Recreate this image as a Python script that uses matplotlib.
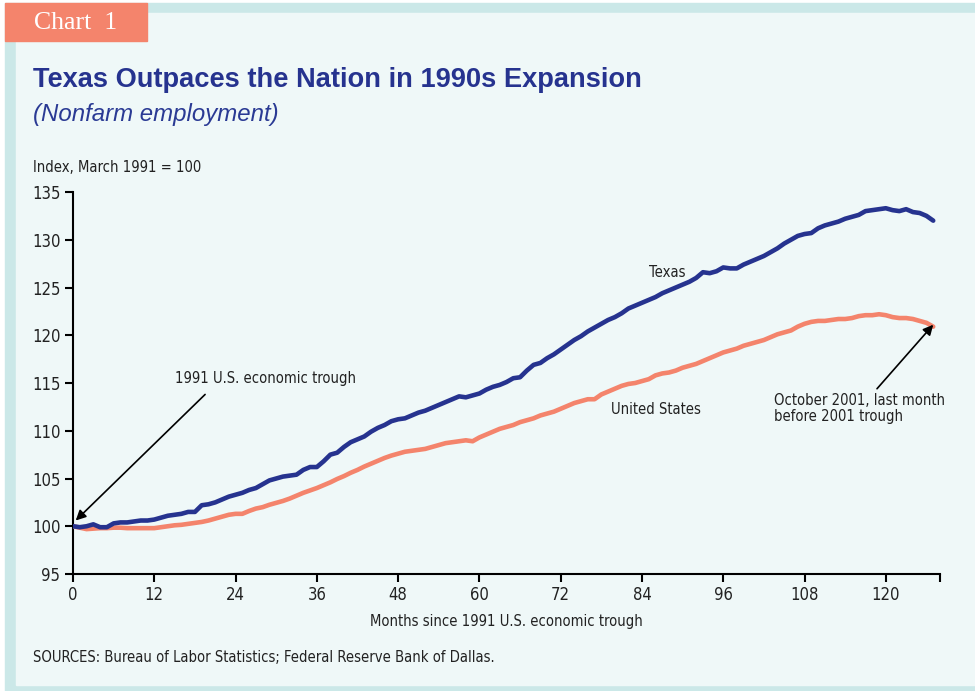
import matplotlib
matplotlib.use("Agg")
import matplotlib.pyplot as plt
import numpy as np
from matplotlib.patches import Rectangle
from matplotlib import font_manager

# Index, March 1991 = 100, months since trough 0..127
texas = [100.0, 99.9, 100.0, 100.2, 99.9, 99.9, 100.3, 100.4, 100.4, 100.5,
         100.6, 100.6, 100.7, 100.9, 101.1, 101.2, 101.3, 101.5, 101.5, 102.2,
         102.3, 102.5, 102.8, 103.1, 103.3, 103.5, 103.8, 104.0, 104.4, 104.8,
         105.0, 105.2, 105.3, 105.4, 105.9, 106.2, 106.2, 106.8, 107.5, 107.7,
         108.3, 108.8, 109.1, 109.4, 109.9, 110.3, 110.6, 111.0, 111.2, 111.3,
         111.6, 111.9, 112.1, 112.4, 112.7, 113.0, 113.3, 113.6, 113.5, 113.7,
         113.9, 114.3, 114.6, 114.8, 115.1, 115.5, 115.6, 116.3, 116.9, 117.1,
         117.6, 118.0, 118.5, 119.0, 119.5, 119.9, 120.4, 120.8, 121.2, 121.6,
         121.9, 122.3, 122.8, 123.1, 123.4, 123.7, 124.0, 124.4, 124.7, 125.0,
         125.3, 125.6, 126.0, 126.6, 126.5, 126.7, 127.1, 127.0, 127.0, 127.4,
         127.7, 128.0, 128.3, 128.7, 129.1, 129.6, 130.0, 130.4, 130.6, 130.7,
         131.2, 131.5, 131.7, 131.9, 132.2, 132.4, 132.6, 133.0, 133.1, 133.2,
         133.3, 133.1, 133.0, 133.2, 132.9, 132.8, 132.5, 132.0]
us = [100.0, 99.85, 99.7, 99.75, 99.8, 99.8, 99.85, 99.85, 99.8, 99.8,
      99.8, 99.8, 99.8, 99.9, 100.0, 100.1, 100.15, 100.25, 100.35, 100.45,
      100.6, 100.8, 101.0, 101.2, 101.3, 101.3, 101.6, 101.85, 102.0, 102.25,
      102.45, 102.65, 102.9, 103.2, 103.5, 103.75, 104.0, 104.3, 104.6, 104.95,
      105.25, 105.6, 105.9, 106.25, 106.55, 106.85, 107.15, 107.4, 107.6, 107.8,
      107.9, 108.0, 108.1, 108.3, 108.5, 108.7, 108.8, 108.9, 109.0, 108.9,
      109.3, 109.6, 109.9, 110.2, 110.4, 110.6, 110.9, 111.1, 111.3, 111.6,
      111.8, 112.0, 112.3, 112.6, 112.9, 113.1, 113.3, 113.3, 113.8, 114.1,
      114.4, 114.7, 114.9, 115.0, 115.2, 115.4, 115.8, 116.0, 116.1, 116.3,
      116.6, 116.8, 117.0, 117.3, 117.6, 117.9, 118.2, 118.4, 118.6, 118.9,
      119.1, 119.3, 119.5, 119.8, 120.1, 120.3, 120.5, 120.9, 121.2, 121.4,
      121.5, 121.5, 121.6, 121.7, 121.7, 121.8, 122.0, 122.1, 122.1, 122.2,
      122.1, 121.9, 121.8, 121.8, 121.7, 121.5, 121.3, 120.9]
months = np.arange(len(texas))

xticks = [0, 12, 24, 36, 48, 60, 72, 84, 96, 108, 120, 128]
xticklabels = ["0", "12", "24", "36", "48", "60", "72", "84", "96", "108", "120", ""]
yticks = [95, 100, 105, 110, 115, 120, 125, 130, 135]

navy = "#26338f"
salmon = "#f4846c"
teal = "#cbe8e8"
panel = "#eff8f8"
W, H = 975, 691

# look for a narrow sans (reference uses a condensed Helvetica)
narrow = None
for f in font_manager.fontManager.ttflist:
    if "Narrow" in f.name or "Condensed" in f.name:
        narrow = f.name
        break
    if f.name == "DejaVu Sans" and f.stretch == "condensed":
        narrow = "DejaVu Sans"
        break
if narrow:
    plt.rcParams['font.family'] = [narrow, 'DejaVu Sans']
    plt.rcParams['font.stretch'] = 'condensed'
    small = 10.6
    tick = 12
else:
    plt.rcParams['font.family'] = ['Liberation Sans', 'DejaVu Sans']
    small = 10
    tick = 11.5

fig = plt.figure(figsize=(W / 100, H / 100), dpi=100, facecolor="white")

# frame (pixel coords converted to figure fractions)
def px_rect(x0, y0, x1, y1, color):
    fig.patches.append(Rectangle((x0 / W, 1 - y1 / H), (x1 - x0) / W, (y1 - y0) / H,
                                 transform=fig.transFigure, color=color, zorder=-10))

px_rect(5, 3, 975, 691, teal)
px_rect(16, 13, 975, 685, panel)
px_rect(5, 3, 147, 41, salmon)

fig.text(34 / W, 1 - 23 / H, "Chart  1", color="white", fontsize=18.5,
         family="Liberation Serif", va="center", ha="left")
fig.text(33 / W, 1 - 80 / H, "Texas Outpaces the Nation in 1990s Expansion",
         color=navy, fontsize=19.6, fontweight="bold", family="Liberation Sans",
         stretch="normal", va="center", ha="left")
fig.text(33 / W, 1 - 114 / H, "(Nonfarm employment)", color="#2a3a94",
         fontsize=17.3, style="italic", family="Liberation Sans", stretch="normal",
         va="center", ha="left")
fig.text(33 / W, 1 - 167 / H, "Index, March 1991 = 100", color="#222222",
         fontsize=small, va="center", ha="left")
fig.text(33 / W, 1 - 658 / H, "SOURCES: Bureau of Labor Statistics; Federal Reserve Bank of Dallas.",
         color="#222222", fontsize=small, va="center", ha="left")

ax = fig.add_axes([73 / W, 1 - 574 / H, (940 - 73) / W, (574 - 192) / H])
ax.set_facecolor("none")
ax.plot(months, us, color=salmon, lw=3.3, solid_capstyle="round", zorder=3)
ax.plot(months, texas, color=navy, lw=3.3, solid_capstyle="round", zorder=4)

ax.set_xlim(0, 128)
ax.set_ylim(95, 135)
ax.set_xticks(xticks)
ax.set_xticklabels(xticklabels)
ax.set_yticks(yticks)
for s in ["top", "right"]:
    ax.spines[s].set_visible(False)
for s in ["left", "bottom"]:
    ax.spines[s].set_linewidth(1.5)
    ax.spines[s].set_color("black")
ax.tick_params(direction="out", length=6, width=1.5, labelsize=tick,
               colors="black", labelcolor="#222222", pad=3)
ax.set_xlabel("Months since 1991 U.S. economic trough", fontsize=small,
              color="#222222", labelpad=7)

ax.text(87.7, 126.6, "Texas", fontsize=small, color="#222222", ha="center", va="center")
ax.text(86, 112.2, "United States", fontsize=small, color="#222222", ha="center", va="center")

ax.annotate("", xy=(0.4, 100.6), xytext=(19.5, 113.8),
            arrowprops=dict(arrowstyle="-|>", color="black", lw=1.2,
                            mutation_scale=15, shrinkA=0, shrinkB=0))
ax.text(15, 115.5, "1991 U.S. economic trough", fontsize=small, color="#222222",
        ha="left", va="center")

ax.annotate("", xy=(127.0, 121.1), xytext=(118.7, 114.4),
            arrowprops=dict(arrowstyle="-|>", color="black", lw=1.2,
                            mutation_scale=15, shrinkA=0, shrinkB=0))
ax.text(103.5, 114.0, "October 2001, last month\nbefore 2001 trough", fontsize=small,
        color="#222222", ha="left", va="top", linespacing=1.1)

fig.savefig("out.png", dpi=100, facecolor=fig.get_facecolor())
